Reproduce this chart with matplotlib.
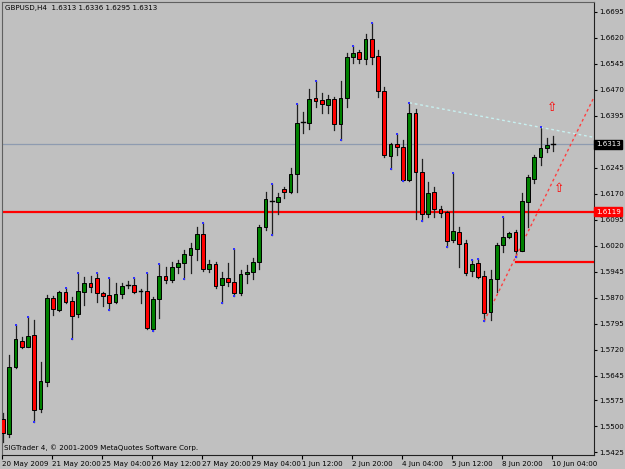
import numpy as np
import matplotlib.pyplot as plt
import matplotlib.transforms as mtransforms
from matplotlib.patches import Rectangle
from matplotlib import font_manager

# GBPUSD H4 bars
opens = [1.5520, 1.5476, 1.5671, 1.5746, 1.5729, 1.5763, 1.5548, 1.5628, 1.5869, 1.5835,
         1.5888, 1.5861, 1.5822, 1.5888, 1.5912, 1.5926, 1.5883, 1.5878, 1.5857, 1.5881,
         1.5907, 1.5907, 1.5890, 1.5890, 1.5779, 1.5867, 1.5933, 1.5921, 1.5958, 1.5971,
         1.5994, 1.6011, 1.6054, 1.5952, 1.5967, 1.5907, 1.5928, 1.5915, 1.5883, 1.5938,
         1.5945, 1.5973, 1.6075, 1.6150, 1.6147, 1.6183, 1.6176, 1.6227, 1.6377, 1.6375,
         1.6446, 1.6441, 1.6427, 1.6444, 1.6372, 1.6446, 1.6564, 1.6579, 1.6558, 1.6616,
         1.6568, 1.6468, 1.6279, 1.6314, 1.6306, 1.6210, 1.6404, 1.6232, 1.6111, 1.6175,
         1.6126, 1.6117, 1.6037, 1.6059, 1.6027, 1.5948, 1.5970, 1.5933, 1.5828, 1.5923,
         1.6022, 1.6045, 1.6061, 1.6006, 1.6147, 1.6213, 1.6276, 1.6302, 1.6313]
highs = [1.5537, 1.5705, 1.5792, 1.5758, 1.5816, 1.5806, 1.5684, 1.5878, 1.5876, 1.5890,
         1.5898, 1.5873, 1.5943, 1.5931, 1.5933, 1.5941, 1.5888, 1.5928, 1.5912, 1.5912,
         1.5919, 1.5928, 1.5895, 1.5943, 1.5873, 1.5967, 1.5958, 1.5974, 1.5979, 1.6008,
         1.6027, 1.6075, 1.6087, 1.5979, 1.5974, 1.5945, 1.5971, 1.6011, 1.5950, 1.5965,
         1.5984, 1.6080, 1.6176, 1.6198, 1.6172, 1.6191, 1.6244, 1.6429, 1.6407, 1.6473,
         1.6497, 1.6460, 1.6455, 1.6449, 1.6496, 1.6576, 1.6598, 1.6585, 1.6631, 1.6664,
         1.6585, 1.6478, 1.6318, 1.6343, 1.6325, 1.6433, 1.6414, 1.6270, 1.6203, 1.6189,
         1.6135, 1.6121, 1.6231, 1.6075, 1.6037, 1.5979, 1.5981, 1.5948, 1.5950, 1.6027,
         1.6104, 1.6061, 1.6066, 1.6172, 1.6225, 1.6282, 1.6362, 1.6330, 1.6336]
lows = [1.5455, 1.5469, 1.5667, 1.5724, 1.5727, 1.5511, 1.5541, 1.5616, 1.5820, 1.5832,
        1.5855, 1.5751, 1.5816, 1.5849, 1.5888, 1.5857, 1.5846, 1.5835, 1.5855, 1.5869,
        1.5898, 1.5885, 1.5855, 1.5780, 1.5775, 1.5811, 1.5912, 1.5917, 1.5943, 1.5923,
        1.5943, 1.5979, 1.5948, 1.5945, 1.5898, 1.5854, 1.5905, 1.5875, 1.5878, 1.5912,
        1.5923, 1.5952, 1.6066, 1.6051, 1.6111, 1.6157, 1.6172, 1.6176, 1.6345, 1.6356,
        1.6422, 1.6404, 1.6404, 1.6354, 1.6325, 1.6422, 1.6547, 1.6547, 1.6544, 1.6544,
        1.6450, 1.6276, 1.6242, 1.6282, 1.6208, 1.6207, 1.6097, 1.6092, 1.6104, 1.6104,
        1.6104, 1.6018, 1.6032, 1.5960, 1.5936, 1.5933, 1.5928, 1.5803, 1.5806, 1.5888,
        1.6003, 1.6043, 1.5987, 1.6004, 1.6075, 1.6200, 1.6253, 1.6292, 1.6295]
closes = [1.5479, 1.5671, 1.5750, 1.5729, 1.5760, 1.5546, 1.5630, 1.5869, 1.5837, 1.5888,
          1.5859, 1.5818, 1.5890, 1.5912, 1.5902, 1.5883, 1.5875, 1.5856, 1.5881, 1.5905,
          1.5907, 1.5888, 1.5890, 1.5782, 1.5867, 1.5933, 1.5921, 1.5960, 1.5971, 1.5996,
          1.6013, 1.6054, 1.5953, 1.5967, 1.5905, 1.5928, 1.5915, 1.5883, 1.5939, 1.5945,
          1.5973, 1.6074, 1.6154, 1.6150, 1.6160, 1.6176, 1.6227, 1.6375, 1.6377, 1.6444,
          1.6439, 1.6429, 1.6444, 1.6372, 1.6446, 1.6566, 1.6577, 1.6558, 1.6616, 1.6566,
          1.6468, 1.6282, 1.6314, 1.6306, 1.6210, 1.6404, 1.6232, 1.6112, 1.6172, 1.6126,
          1.6114, 1.6035, 1.6063, 1.6024, 1.5941, 1.5967, 1.5931, 1.5827, 1.5924, 1.6022,
          1.6045, 1.6056, 1.6006, 1.6149, 1.6218, 1.6276, 1.6302, 1.6311, 1.6313]

# fractal markers (bar indices)
frac_up = [2, 4, 10, 12, 15, 17, 21, 23, 25, 32, 37, 43, 47, 50, 56, 59, 63, 65, 72, 75, 76, 80, 86]
frac_dn = [5, 11, 17, 24, 29, 35, 37, 43, 54, 62, 64, 67, 71, 77, 82]

time_labels = ["20 May 2009", "21 May 20:00", "25 May 04:00", "26 May 12:00", "27 May 20:00",
               "29 May 04:00", "1 Jun 12:00", "2 Jun 20:00", "4 Jun 04:00", "5 Jun 12:00",
               "8 Jun 20:00", "10 Jun 04:00"]
price_ticks = [1.6695, 1.6620, 1.6545, 1.6470, 1.6395, 1.6245, 1.6170, 1.6095, 1.6020,
               1.5945, 1.5870, 1.5795, 1.5720, 1.5645, 1.5575, 1.5500, 1.5425]

bid = 1.6313
level_red = 1.6119
support = 1.5972
support_from = 82
res_line = [(65, 1.6433), (86, 1.6362)]
sup_line = [(77, 1.5803), (82, 1.5987)]
arrows = [(87.9, 1.6420), (89.0, 1.6186)]

names = {f.name for f in font_manager.fontManager.ttflist}
if 'Liberation Sans Narrow' in names:
    plt.rcParams['font.family'] = ['Liberation Sans Narrow', 'DejaVu Sans']
    fs = 6.4
else:
    plt.rcParams['font.family'] = ['DejaVu Sans']
    fs = 5.1

bg = '#C0C0C0'
fig = plt.figure(figsize=(6.25, 4.69), dpi=100, facecolor=bg)
ax = fig.add_axes([2 / 625, 14 / 469, 592 / 625, 453 / 469], facecolor=bg)
ax.set_xlim(-0.16, 94.56)
ax.set_ylim(1.54164, 1.67237)

n = len(opens)
# horizontal lines first (behind the candles)
ax.axhline(bid, color='#8E9BB0', lw=0.9, zorder=1)
ax.axhline(level_red, color='#FF0000', lw=1.6, zorder=1)
ax.plot([support_from, 94.56], [support, support], color='#FF0000', lw=1.6, zorder=1)

w = 0.62
for i in range(n):
    o, h, l, c = opens[i], highs[i], lows[i], closes[i]
    ax.plot([i, i], [l, h], color='#202020', lw=0.9, zorder=2)
    if abs(c - o) < 1e-6:
        ax.plot([i - w / 2, i + w / 2], [o, o], color='black', lw=1.0, zorder=3)
        continue
    col = '#008000' if c > o else '#FF0000'
    ax.add_patch(Rectangle((i - w / 2, min(o, c)), w, abs(c - o), facecolor=col,
                           edgecolor='black', lw=0.7, zorder=3))

ax.scatter(frac_up, [highs[i] for i in frac_up], s=2, color='#3030FF', marker='s', zorder=4, lw=0)
ax.scatter(frac_dn, [lows[i] for i in frac_dn], s=2, color='#3030FF', marker='s', zorder=4, lw=0)

# trend lines
(x0, y0), (x1, y1) = res_line
k = (y1 - y0) / (x1 - x0)
ax.plot([x0, 94.56], [y0, y0 + k * (94.56 - x0)], color='#C8F0F0', lw=1.0, ls=(0, (2, 2)), zorder=2)
(x0, y0), (x1, y1) = sup_line
k = (y1 - y0) / (x1 - x0)
ax.plot([x0, 94.56], [y0, y0 + k * (94.56 - x0)], color='#FF4040', lw=1.0, ls=(0, (2, 2)), zorder=2)

for ax_, ay_ in arrows:
    ax.text(ax_, ay_, '\u21e7', color='#FF0000', fontsize=9, ha='center', va='center',
            family='DejaVu Sans', zorder=5)

# axes styling
for s in ['left', 'top']:
    ax.spines[s].set_color('#606060')
for s in ['right', 'bottom']:
    ax.spines[s].set_color('#202020')
ax.yaxis.tick_right()
ax.set_yticks(price_ticks)
ax.set_yticklabels([f"{v:.4f}" for v in price_ticks])
ax.set_xticks(np.arange(0, n, 8) - 0.16)
ax.set_xticklabels(time_labels, ha='left')
ax.tick_params(axis='y', length=2.5, width=0.8, pad=1, labelsize=fs, colors='black')
ax.tick_params(axis='x', length=3, width=0.8, pad=1, labelsize=fs, colors='black')

trans = mtransforms.blended_transform_factory(ax.transAxes, ax.transData)
ax.text(1.003, bid, f"{bid:.4f}", transform=trans, color='white', fontsize=fs, ha='left', va='center',
        bbox=dict(boxstyle='square,pad=0.25', fc='black', ec='black'), zorder=6, clip_on=False)
ax.text(1.003, level_red, f"{level_red:.4f}", transform=trans, color='white', fontsize=fs, ha='left',
        va='center', bbox=dict(boxstyle='square,pad=0.25', fc='#FF0000', ec='#FF0000'), zorder=6, clip_on=False)

ax.text(0.005, 0.993, "GBPUSD,H4  1.6313 1.6336 1.6295 1.6313", transform=ax.transAxes,
        fontsize=fs, ha='left', va='top')
ax.text(0.004, 0.008, "SIGTrader 4, \u00a9 2001-2009 MetaQuotes Software Corp.", transform=ax.transAxes,
        fontsize=fs, ha='left', va='bottom')

fig.savefig('out.png', dpi=100, facecolor=bg)
